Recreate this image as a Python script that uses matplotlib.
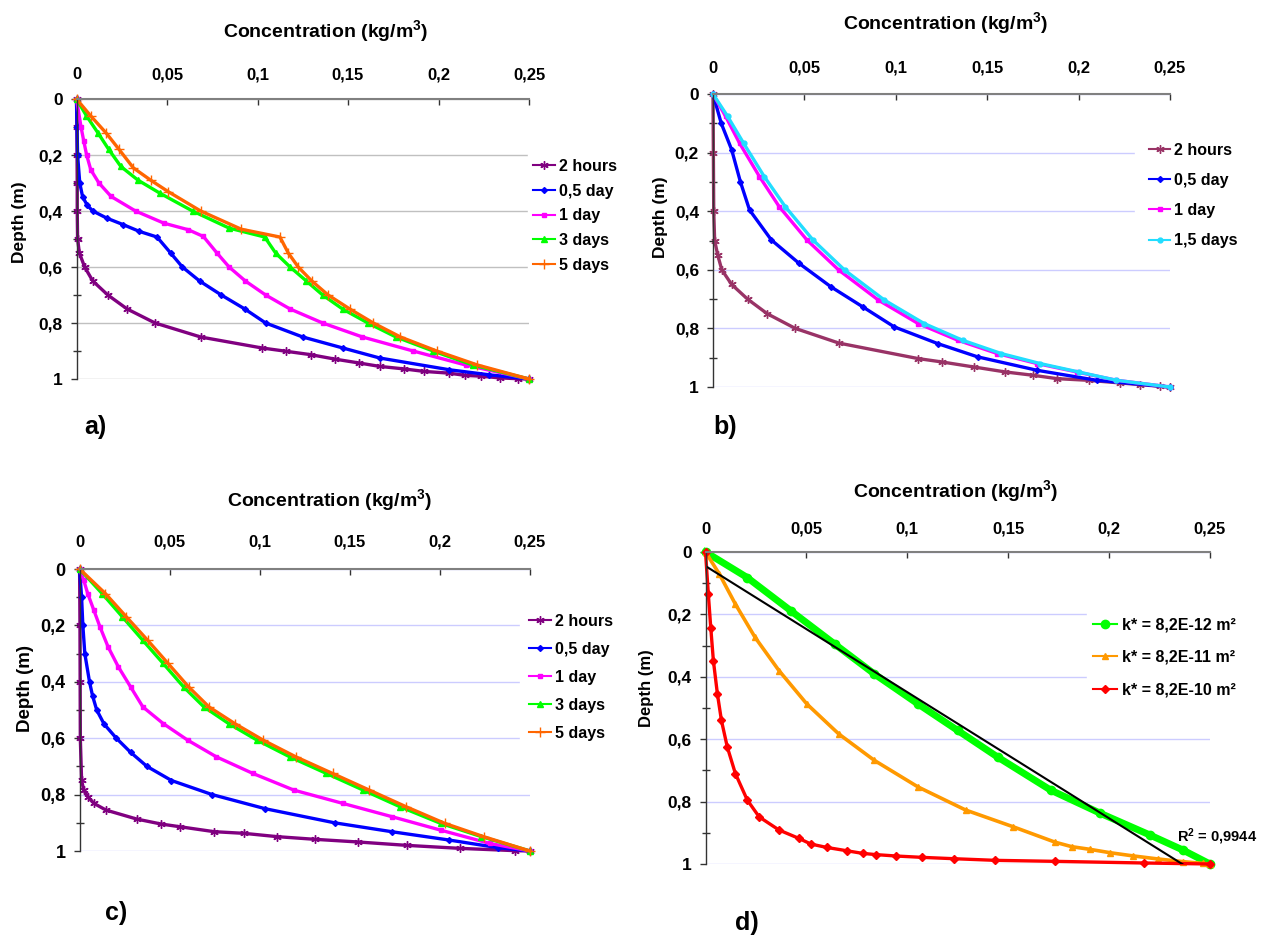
import matplotlib
matplotlib.use("Agg")
import matplotlib.pyplot as plt
from matplotlib.ticker import MultipleLocator
import numpy as np

plt.rcParams['font.family'] = ['Liberation Sans', 'DejaVu Sans']
plt.rcParams['mathtext.default'] = 'regular'
plt.rcParams['lines.solid_joinstyle'] = 'round'

W, H = 1263, 936

# ---------------- data (concentration kg/m3 vs depth m) ----------------
x_ticks = [0, 0.05, 0.1, 0.15, 0.2, 0.25]
x_tick_labels = ['0', '0,05', '0,1', '0,15', '0,2', '0,25']
y_ticks = [0, 0.2, 0.4, 0.6, 0.8, 1.0]
y_tick_labels = ['0', '0,2', '0,4', '0,6', '0,8', '1']

# panel a
a_labels = ['2 hours', '0,5 day', '1 day', '3 days', '5 days']
a_depth_2h = [0, 0.1, 0.2, 0.3, 0.4, 0.5, 0.55, 0.6, 0.65, 0.7, 0.75, 0.8, 0.85, 0.889, 0.901,
              0.913, 0.929, 0.943, 0.955, 0.964, 0.973, 0.979, 0.987, 0.990, 0.996, 0.999, 1.0]
a_conc_2h = [0, 0.0002, 0.0003, 0.0004, 0.0004, 0.0006, 0.0016, 0.0045, 0.009, 0.0173, 0.028, 0.0434,
             0.0686, 0.1023, 0.1158, 0.1293, 0.1428, 0.1563, 0.1675, 0.181, 0.1922, 0.2057, 0.2147,
             0.2237, 0.2338, 0.2439, 0.25]
a_depth_05 = [0, 0.1, 0.2, 0.3, 0.35, 0.38, 0.4, 0.426, 0.449, 0.473, 0.493, 0.55, 0.6, 0.65, 0.7,
              0.75, 0.8, 0.85, 0.889, 0.925, 0.967, 0.985, 1.0]
a_conc_05 = [0, 0.0003, 0.0006, 0.0018, 0.0034, 0.006, 0.009, 0.0169, 0.0259, 0.0348, 0.0445, 0.052,
             0.0585, 0.068, 0.080, 0.093, 0.1045, 0.125, 0.147, 0.1675, 0.206, 0.228, 0.25]
a_depth_1d = [0, 0.1, 0.15, 0.2, 0.253, 0.3, 0.348, 0.4, 0.4435, 0.467, 0.491, 0.55, 0.6, 0.65, 0.7,
              0.75, 0.8, 0.85, 0.9, 0.95, 1.0]
a_conc_1d = [0, 0.0025, 0.004, 0.0056, 0.0079, 0.0124, 0.0191, 0.0326, 0.0483, 0.0618, 0.0701, 0.0776,
             0.0843, 0.0933, 0.1045, 0.118, 0.136, 0.158, 0.186, 0.215, 0.25]
a_depth_3d = [0, 0.06, 0.1225, 0.18, 0.241, 0.29, 0.3365, 0.4, 0.461, 0.493, 0.55, 0.6, 0.65, 0.7,
              0.75, 0.8, 0.85, 0.9, 0.95, 1.0]
a_conc_3d = [0, 0.0055, 0.012, 0.0178, 0.0245, 0.034, 0.0461, 0.0641, 0.0843, 0.104, 0.110, 0.118,
             0.127, 0.136, 0.147, 0.161, 0.1765, 0.197, 0.219, 0.25]
a_depth_5d = [0, 0.06, 0.1225, 0.18, 0.246, 0.29, 0.3306, 0.4, 0.465, 0.493, 0.55, 0.6, 0.65, 0.7,
              0.75, 0.8, 0.85, 0.9, 0.95, 1.0]
a_conc_5d = [0, 0.0078, 0.0165, 0.0235, 0.0314, 0.041, 0.0506, 0.0686, 0.091, 0.1124, 0.117, 0.1225,
             0.130, 0.139, 0.151, 0.164, 0.179, 0.199, 0.2215, 0.25]

# panel b
b_labels = ['2 hours', '0,5 day', '1 day', '1,5 days']
b_depth_2h = [0, 0.2, 0.4, 0.5, 0.55, 0.6, 0.65, 0.7, 0.75, 0.8, 0.85, 0.903, 0.9145, 0.9316, 0.9487,
              0.960, 0.9715, 0.9772, 0.9863, 0.992, 0.9977, 1.0]
b_conc_2h = [0, 0.0002, 0.0004, 0.0009, 0.0026, 0.0048, 0.0102, 0.0189, 0.0297, 0.045, 0.0688, 0.1122,
             0.1252, 0.1426, 0.16, 0.1751, 0.1882, 0.2055, 0.2229, 0.2337, 0.2446, 0.25]
b_depth_05 = [0, 0.1, 0.19, 0.3, 0.396, 0.498, 0.578, 0.658, 0.726, 0.795, 0.852, 0.897, 0.943, 0.977, 1.0]
b_conc_05 = [0, 0.0045, 0.0102, 0.015, 0.02, 0.0319, 0.0471, 0.0645, 0.0818, 0.0992, 0.123, 0.1447,
             0.1773, 0.2098, 0.25]
b_depth_1d = [0, 0.0764, 0.1676, 0.2816, 0.3843, 0.4983, 0.6009, 0.7035, 0.7834, 0.8404, 0.886, 0.920,
              0.9487, 0.977, 1.0]
b_conc_1d = [0, 0.0069, 0.0145, 0.0254, 0.0362, 0.0514, 0.0688, 0.0905, 0.1122, 0.1339, 0.1556, 0.1773,
             0.199, 0.2207, 0.25]
b_depth_15d = [0, 0.0764, 0.1676, 0.2816, 0.3843, 0.4983, 0.6009, 0.7035, 0.7834, 0.8404, 0.886, 0.920,
               0.9487, 0.977, 1.0]
b_conc_15d = [0, 0.008, 0.0167, 0.028, 0.0395, 0.0547, 0.072, 0.0938, 0.1155, 0.1365, 0.1578, 0.179,
              0.200, 0.2207, 0.25]

# panel c
c_labels = ['2 hours', '0,5 day', '1 day', '3 days', '5 days']
c_depth_2h = [0, 0.2, 0.4, 0.6, 0.749, 0.784, 0.807, 0.831, 0.855, 0.8867, 0.9044, 0.9138, 0.9315,
              0.9374, 0.9492, 0.9587, 0.9681, 0.980, 0.9906, 0.9988, 1.0]
c_conc_2h = [0, 0.0002, 0.0003, 0.0004, 0.0011, 0.0023, 0.0045, 0.0079, 0.0147, 0.0317, 0.0453, 0.0555,
             0.0747, 0.0913, 0.1098, 0.1309, 0.1547, 0.1816, 0.211, 0.2418, 0.25]
c_depth_05 = [0, 0.1, 0.2, 0.3, 0.4, 0.45, 0.5, 0.55, 0.6, 0.65, 0.7, 0.75, 0.8, 0.85, 0.9, 0.9315,
              0.961, 0.988, 1.0]
c_conc_05 = [0, 0.0011, 0.0018, 0.0029, 0.0055, 0.0072, 0.0095, 0.0136, 0.0204, 0.0283, 0.0374, 0.051,
             0.0736, 0.103, 0.1415, 0.1732, 0.205, 0.232, 0.25]
c_depth_1d = [0, 0.04, 0.087, 0.146, 0.205, 0.276, 0.347, 0.418, 0.489, 0.548, 0.607, 0.666, 0.725,
              0.784, 0.831, 0.878, 0.926, 0.973, 1.0]
c_conc_1d = [0, 0.0023, 0.0045, 0.0079, 0.0113, 0.0158, 0.0215, 0.0283, 0.0351, 0.0464, 0.06, 0.0759,
             0.0962, 0.1189, 0.146, 0.1732, 0.2004, 0.2276, 0.25]
c_depth_3d = [0, 0.087, 0.17, 0.253, 0.335, 0.418, 0.489, 0.548, 0.607, 0.666, 0.725, 0.784, 0.843,
              0.902, 0.949, 1.0]
c_conc_3d = [0, 0.0125, 0.0238, 0.0351, 0.0464, 0.0577, 0.069, 0.0827, 0.0985, 0.1166, 0.137, 0.1574,
             0.1778, 0.2004, 0.223, 0.25]
c_depth_5d = c_depth_3d
c_conc_5d = [0, 0.0143, 0.026, 0.0378, 0.0491, 0.0605, 0.0718, 0.0861, 0.1019, 0.12, 0.1404, 0.1608,
             0.1812, 0.2027, 0.2242, 0.25]

# panel d
d_labels = ['k* = 8,2E-12 m²', 'k* = 8,2E-11 m²', 'k* = 8,2E-10 m²']
d_depth_12 = [0, 0.082, 0.1885, 0.295, 0.391, 0.487, 0.572, 0.657, 0.763, 0.837, 0.907, 0.955, 1.0]
d_conc_12 = [0, 0.0207, 0.0423, 0.064, 0.0837, 0.1053, 0.125, 0.1447, 0.171, 0.1955, 0.2202, 0.2365, 0.25]
d_depth_11 = [0, 0.071, 0.167, 0.274, 0.380, 0.487, 0.583, 0.668, 0.753, 0.827, 0.881, 0.930, 0.9445,
              0.953, 0.9637, 0.974, 0.984, 0.9926, 0.998, 1.0]
d_conc_11 = [0, 0.0069, 0.0148, 0.0246, 0.0364, 0.0502, 0.066, 0.0837, 0.1053, 0.1289, 0.1526, 0.1732,
             0.1815, 0.1905, 0.2004, 0.2118, 0.2244, 0.2368, 0.2464, 0.25]
d_depth_10 = [0, 0.135, 0.242, 0.348, 0.455, 0.54, 0.625, 0.71, 0.795, 0.849, 0.891, 0.918, 0.936,
              0.9468, 0.9574, 0.9659, 0.970, 0.9744, 0.9787, 0.983, 0.9883, 0.9915, 0.9968, 1.0]
d_conc_10 = [0, 0.0014, 0.0026, 0.0039, 0.0059, 0.0079, 0.0108, 0.0148, 0.0207, 0.0266, 0.0364, 0.0463,
             0.0522, 0.06, 0.0699, 0.0778, 0.0846, 0.0945, 0.1073, 0.123, 0.1437, 0.1732, 0.2175, 0.25]
# linear trend line on the k* = 8,2E-12 series
trend_intercept = 0.045
trend_slope = 4.043
r2_text = 'R$^2$ = 0,9944'


def px_rect(x0, y0, x1, y1):
    # pixel box -> figure fraction [left, bottom, width, height]
    return [x0 / W, 1 - y1 / H, (x1 - x0) / W, (y1 - y0) / H]


def style_axes(ax, grid_color, ylab_size=12.5, xpad=12):
    ax.set_xlim(0, 0.25)
    ax.set_ylim(1, 0)
    for s in ['right', 'bottom']:
        ax.spines[s].set_visible(False)
    ax.spines['top'].set_color('#808080')
    ax.spines['top'].set_linewidth(1.5)
    ax.spines['left'].set_color('#333333')
    ax.spines['left'].set_linewidth(1.0)
    ax.set_xticks(x_ticks)
    ax.set_xticklabels(x_tick_labels, fontsize=12, fontweight='bold')
    ax.set_yticks(y_ticks)
    ax.set_yticklabels(y_tick_labels, fontsize=ylab_size, fontweight='bold')
    ax.yaxis.set_minor_locator(MultipleLocator(0.1))
    ax.tick_params(axis='x', top=True, bottom=False, labeltop=True, labelbottom=False,
                   direction='in', length=4, width=1, color='#333333', pad=xpad)
    ax.tick_params(axis='y', which='major', direction='out', length=4, width=1,
                   color='#333333', pad=6)
    ax.tick_params(axis='y', which='minor', direction='inout', length=6, width=1, color='#333333')
    ax.grid(axis='y', which='major', color=grid_color, linewidth=1)
    ax.set_axisbelow(True)


def add_legend(ax, top_left, pad, spacing, hlen, htpad):
    x, y = top_left
    leg = ax.legend(loc='upper left', bbox_to_anchor=(x / W, 1 - y / H),
                    bbox_transform=fig.transFigure, frameon=True, fancybox=False,
                    facecolor='white', edgecolor='white', framealpha=1,
                    borderpad=pad, borderaxespad=0, labelspacing=spacing,
                    handlelength=hlen, handletextpad=htpad, numpoints=1,
                    prop={'weight': 'bold', 'size': 11.5})
    for line in leg.get_lines():
        line.set_linewidth(1.5)
    return leg


fig = plt.figure(figsize=(W / 100, H / 100), dpi=100)

ax_a = fig.add_axes(px_rect(76.5, 99, 529, 379))
ax_b = fig.add_axes(px_rect(713, 94, 1170, 387))
ax_c = fig.add_axes(px_rect(79.6, 569, 530, 851))
ax_d = fig.add_axes(px_rect(705.5, 552, 1210, 864))

star = (6, 2, 0)
lw = 2.4

# ---- a ----
ax_a.plot(a_conc_2h, a_depth_2h, color='#800080', marker=star, ms=6, lw=lw, clip_on=False, label=a_labels[0])
ax_a.plot(a_conc_05, a_depth_05, color='#0000FF', marker='D', ms=3, lw=lw, clip_on=False, label=a_labels[1])
ax_a.plot(a_conc_1d, a_depth_1d, color='#FF00FF', marker='s', ms=3.5, lw=lw, clip_on=False, label=a_labels[2])
ax_a.plot(a_conc_3d, a_depth_3d, color='#00FF00', marker='^', ms=4, lw=lw, clip_on=False, label=a_labels[3])
ax_a.plot(a_conc_5d, a_depth_5d, color='#FF6600', marker='+', ms=7, lw=lw, clip_on=False, label=a_labels[4])
style_axes(ax_a, '#c0c0c0', xpad=12)
add_legend(ax_a, (528, 154), 0.3, 0.61, 1.4, 0.25)

# ---- b ----
ax_b.plot(b_conc_2h, b_depth_2h, color='#993366', marker=star, ms=6, lw=lw, clip_on=False, label=b_labels[0])
ax_b.plot(b_conc_05, b_depth_05, color='#0000FF', marker='D', ms=3, lw=lw, clip_on=False, label=b_labels[1])
ax_b.plot(b_conc_1d, b_depth_1d, color='#FF00FF', marker='s', ms=3.5, lw=lw, clip_on=False, label=b_labels[2])
ax_b.plot(b_conc_15d, b_depth_15d, color='#22DDFF', marker='o', ms=3.5, lw=lw, clip_on=False, label=b_labels[3])
style_axes(ax_b, '#ccccff', xpad=13)
add_legend(ax_b, (1135, 129), 0.86, 0.95, 1.35, 0.22)

# ---- c ----
ax_c.plot(c_conc_2h, c_depth_2h, color='#800080', marker=star, ms=6, lw=lw, clip_on=False, label=c_labels[0])
ax_c.plot(c_conc_05, c_depth_05, color='#0000FF', marker='D', ms=3, lw=lw, clip_on=False, label=c_labels[1])
ax_c.plot(c_conc_1d, c_depth_1d, color='#FF00FF', marker='s', ms=3.5, lw=lw, clip_on=False, label=c_labels[2])
ax_c.plot(c_conc_3d, c_depth_3d, color='#00FF00', marker='^', ms=4, lw=lw, clip_on=False, label=c_labels[3])
ax_c.plot(c_conc_5d, c_depth_5d, color='#FF6600', marker='+', ms=7, lw=lw, clip_on=False, label=c_labels[4])
style_axes(ax_c, '#ccccff', ylab_size=13, xpad=14)
add_legend(ax_c, (520, 605), 0.55, 0.81, 1.4, 0.25)

# ---- d ----
ax_d.plot(d_conc_12, d_depth_12, color='#00FF00', marker='o', ms=6, lw=5, clip_on=False, label=d_labels[0])
ax_d.plot(d_conc_11, d_depth_11, color='#FF9900', marker='^', ms=5, lw=2.6, clip_on=False, label=d_labels[1])
ax_d.plot(d_conc_10, d_depth_10, color='#FF0000', marker='D', ms=4, lw=2.4, clip_on=False, label=d_labels[2])
trend_x = np.array([0, 0.25])
ax_d.plot(trend_x, trend_intercept + trend_slope * trend_x, color='black', lw=1.5)
style_axes(ax_d, '#ccccff', xpad=11)
add_legend(ax_d, (1087, 611), 0.4, 1.1, 1.5, 0.28)
fig.text(1177 / W, 1 - 837 / H, r2_text, fontsize=10.5, fontweight='bold', va='center', ha='left')

# titles, axis labels, panel letters
title = 'Concentration (kg/m$^3$)'
for cx, cy in [(326, 31), (946, 23), (330, 500), (956, 491)]:
    fig.text(cx / W, 1 - cy / H, title, fontsize=14, fontweight='bold',
             ha='center', va='center')

for cx, cy, fs in [(20, 222, 12.5), (660, 217, 12.5), (26, 689, 13.5), (647, 688, 12)]:
    fig.text(cx / W, 1 - cy / H, 'Depth (m)', fontsize=fs, fontweight='bold', rotation=90,
             ha='center', va='center')

for lab, cx, cy in [('a)', 95, 427), ('b)', 725, 427), ('c)', 116, 913), ('d)', 747, 923)]:
    fig.text(cx / W, 1 - cy / H, lab, fontsize=18, fontweight='bold', ha='center', va='center')

fig.savefig('out.png', dpi=100)
